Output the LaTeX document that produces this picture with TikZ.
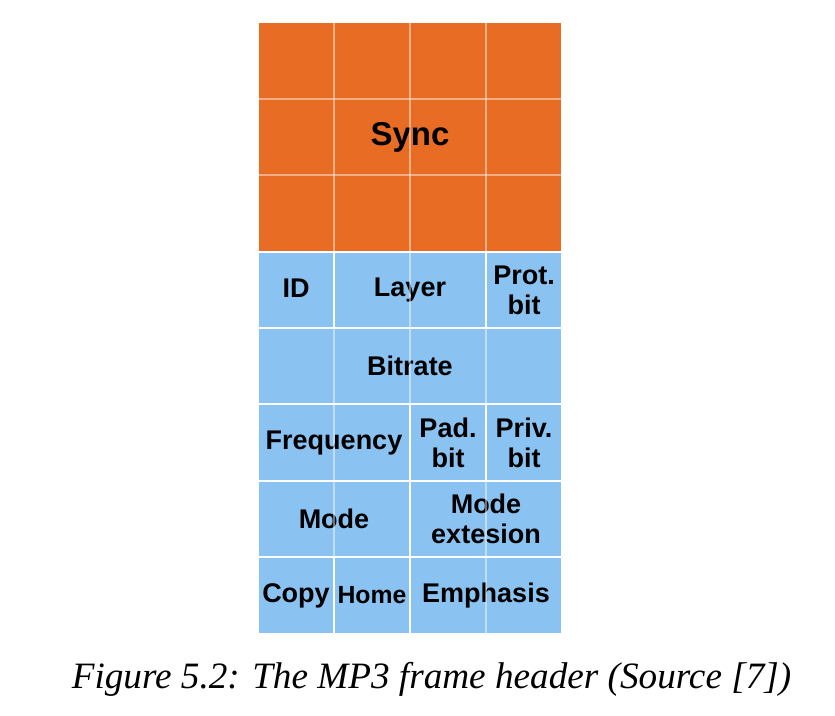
\documentclass[tikz,border=0pt]{standalone}
\usepackage{fontspec}
\setmainfont{Liberation Serif}
\setsansfont{Liberation Sans}
\usetikzlibrary{positioning}
\definecolor{syncorange}{RGB}{233,108,36}
\definecolor{hdrblue}{RGB}{138,194,242}
\tikzset{
  field/.style={draw=white,line width=1pt,inner sep=0pt,align=center,minimum width=38pt,minimum height=38.2pt,font=\sffamily\bfseries\fontsize{13.5}{15}\selectfont},
  bluefield/.style={field,fill=hdrblue},
  faint/.style={draw=white,draw opacity=0.45,line width=1pt}
}
\begin{document}
\begin{tikzpicture}[x=0.5pt,y=-0.5pt]
\useasboundingbox (0,0) rectangle (835,716);

\node[field,fill=syncorange,minimum width=152pt,minimum height=114.6pt,font=\sffamily\bfseries\fontsize{16.5}{18}\selectfont] (sync) at (410,137.1) {\raisebox{2pt}{Sync}};

\node[bluefield] (id) at (296,289.9) {\raisebox{1.5pt}{ID}};
\node[bluefield,minimum width=76pt] (layer) at (410,289.9) {Layer};
\node[bluefield] (prot) at (524,289.9) {Prot.\\bit};
\node[bluefield,minimum width=152pt] (bitrate) at (410,366.3) {Bitrate};
\node[bluefield,minimum width=76pt] (freq) at (334,442.7) {Frequency};
\node[bluefield] (pad) at (448,442.7) {Pad.\\bit};
\node[bluefield] (priv) at (524,442.7) {Priv.\\bit};
\node[bluefield,minimum width=76pt] (mode) at (334,519.1) {Mode};
\node[bluefield,minimum width=76pt] (modeext) at (486,519.1) {Mode\\extesion};
\node[bluefield] (copy) at (296,595.5) {Copy};
\node[bluefield,font=\sffamily\bfseries\fontsize{12.4}{14}\selectfont] (home) at (372,595.5) {Home};
\node[bluefield,minimum width=76pt] (emph) at (486,595.5) {Emphasis};

\foreach \x in {334,410,486}
  \draw[faint] (\x,22.5) -- (\x,251.7);
\foreach \y in {98.9,175.3}
  \draw[faint] (258,\y) -- (562,\y);
\foreach \x in {334,410,486}
  \draw[faint] (\x,328.1) -- (\x,404.5);
\draw[faint] (layer.north) -- (layer.south);
\draw[faint] (freq.north) -- (freq.south);
\draw[faint] (mode.north) -- (mode.south);
\draw[faint] (modeext.north) -- (modeext.south);
\draw[faint] (emph.north) -- (emph.south);

\node[anchor=base,font=\itshape\fontsize{18.6}{22}\selectfont] (caption) at (431.5,688) {Figure 5.2: The MP3 frame header (Source [7])};

\end{tikzpicture}
\end{document}
